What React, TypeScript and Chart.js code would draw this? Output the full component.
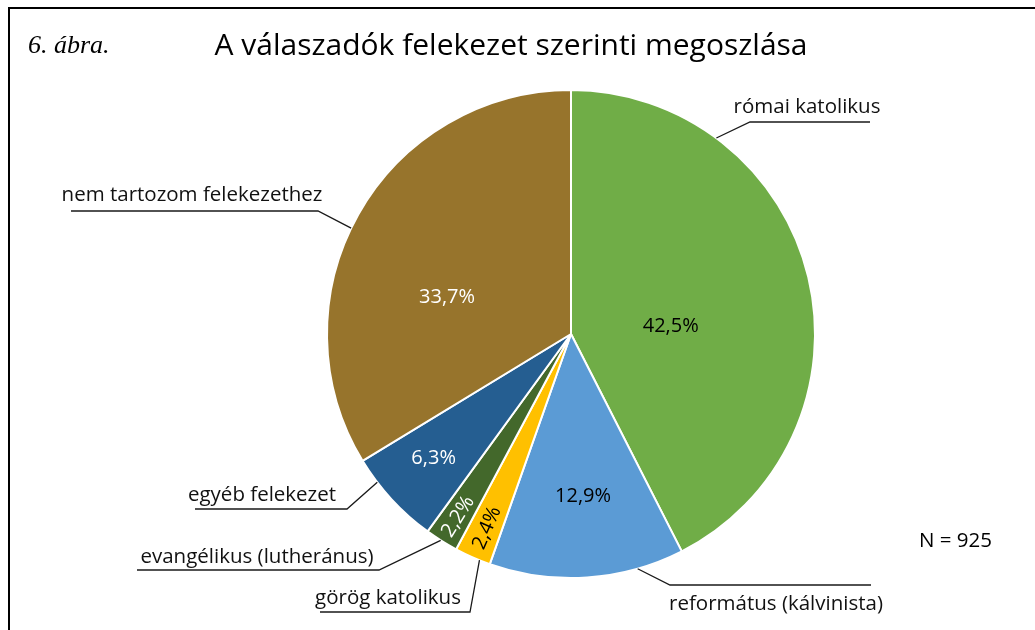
import { useEffect, useRef } from "react";
import { Chart, registerables } from "chart.js";
Chart.register(...registerables);

const title = "A válaszadók felekezet szerinti megoszlása";
const figureLabel = "6. ábra.";
const note = "N = 925";
const categories = [
  "római katolikus",
  "református (kálvinista)",
  "görög katolikus",
  "evangélikus (lutheránus)",
  "egyéb felekezet",
  "nem tartozom felekezethez",
];
const values = [42.5, 12.9, 2.4, 2.2, 6.3, 33.7];
const valueLabels = ["42,5%", "12,9%", "2,4%", "2,2%", "6,3%", "33,7%"];
const colors = ["#70AD47", "#5B9BD5", "#FFC000", "#43682B", "#255E91", "#97742C"];
const valueLabelColors = ["#000000", "#000000", "#000000", "#ffffff", "#ffffff", "#ffffff"];

// label layout: t = fraction across slice angle, rf = fraction of radius, rot = rotate radially
const innerLayout = [
  { t: 0.558, rf: 0.41, rot: false },
  { t: 0.49, rf: 0.666, rot: false },
  { t: 0.46, rf: 0.866, rot: true },
  { t: 0.46, rf: 0.88, rot: true },
  { t: 0.52, rf: 0.76, rot: false },
  { t: 0.395, rf: 0.53, rot: false },
];
// leader lines: anchor t on slice edge; elbow/end/text offsets relative to pie centre
const leaderLayout = [
  { t: 0.239, elbow: [179, -212], end: [299, -212], text: [236, -227] },
  { t: 0.24, elbow: [99, 251], end: [300, 251], text: [205, 270] },
  { t: 0.3, elbow: [-101, 278], end: [-251, 278], text: [-183, 264] },
  { t: 0.53, elbow: [-192, 236], end: [-434, 236], text: [-314, 223] },
  { t: 0.73, elbow: [-224, 175], end: [-376, 175], text: [-309, 161] },
  { t: 0.47, elbow: [-253, -123], end: [-500, -123], text: [-379, -139] },
];

const SANS = "'Open Sans', 'Noto Sans', sans-serif";

const overlayPlugin = {
  id: "overlay",
  beforeDraw(chart: any) {
    const ctx = chart.ctx;
    ctx.save();
    ctx.strokeStyle = "#000";
    ctx.lineWidth = 2;
    ctx.beginPath();
    ctx.moveTo(9, 630);
    ctx.lineTo(9, 8);
    ctx.lineTo(1035, 8);
    ctx.stroke();
    ctx.fillStyle = "#000";
    ctx.textBaseline = "middle";
    ctx.textAlign = "left";
    ctx.font = "italic 26px 'Liberation Serif', serif";
    ctx.fillText(figureLabel, 28, 46);
    ctx.textAlign = "center";
    ctx.font = `30px ${SANS}`;
    ctx.fillText(title, 511, 46);
    ctx.font = `20.5px ${SANS}`;
    ctx.textAlign = "left";
    ctx.fillText(note, 919, 541);
    ctx.restore();
  },
  afterDatasetsDraw(chart: any) {
    const ctx = chart.ctx;
    const meta = chart.getDatasetMeta(0);
    ctx.save();
    meta.data.forEach((arc: any, i: number) => {
      const { x, y, startAngle, endAngle, outerRadius } = arc.getProps(
        ["x", "y", "startAngle", "endAngle", "outerRadius"],
        true
      );
      // inner value label
      const il = innerLayout[i];
      const a = startAngle + (endAngle - startAngle) * il.t;
      const r = outerRadius * il.rf;
      const px = x + Math.cos(a) * r;
      const py = y + Math.sin(a) * r;
      ctx.save();
      ctx.translate(px, py);
      if (il.rot) ctx.rotate(a + Math.PI);
      ctx.fillStyle = valueLabelColors[i];
      ctx.font = `20px ${SANS}`;
      ctx.textAlign = "center";
      ctx.textBaseline = "middle";
      ctx.fillText(valueLabels[i], 0, 0);
      ctx.restore();

      // leader line + category label
      const ll = leaderLayout[i];
      const la = startAngle + (endAngle - startAngle) * ll.t;
      const ax = x + Math.cos(la) * outerRadius;
      const ay = y + Math.sin(la) * outerRadius;
      ctx.strokeStyle = "#1a1a1a";
      ctx.lineWidth = 1.3;
      ctx.beginPath();
      ctx.moveTo(ax, ay);
      ctx.lineTo(x + ll.elbow[0], y + ll.elbow[1]);
      ctx.lineTo(x + ll.end[0], y + ll.end[1]);
      ctx.stroke();
      ctx.fillStyle = "#111";
      ctx.font = `20.5px ${SANS}`;
      ctx.textAlign = "center";
      ctx.textBaseline = "middle";
      ctx.fillText(categories[i], x + ll.text[0], y + ll.text[1]);
    });
    ctx.restore();
  },
};

export default function App() {
  const ref = useRef<HTMLCanvasElement | null>(null);
  useEffect(() => {
    if (!ref.current) return;
    const chart = new Chart(ref.current, {
      type: "pie",
      data: {
        labels: categories,
        datasets: [
          {
            data: values,
            backgroundColor: colors,
            borderColor: "#ffffff",
            borderWidth: 2,
          },
        ],
      },
      options: {
        responsive: false,
        animation: false,
        layout: { padding: { top: 89, bottom: 51, left: 107, right: 0 } },
        plugins: {
          legend: { display: false },
          tooltip: { enabled: false },
          title: { display: false },
        },
      },
      plugins: [overlayPlugin],
    });
    return () => chart.destroy();
  }, []);
  return (
    <div style={{ position: "fixed", left: 0, top: 0, width: 1035, height: 630, background: "#fff" }}>
      <canvas ref={ref} width={1035} height={630} style={{ display: "block" }} />
    </div>
  );
}
